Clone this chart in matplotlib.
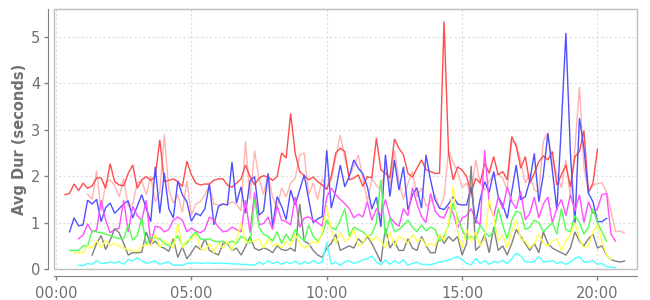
import numpy as np
import matplotlib
matplotlib.use('Agg')
import matplotlib.pyplot as plt
from matplotlib.patches import Rectangle
from matplotlib.ticker import FixedLocator, FuncFormatter

# ---- data: 10-minute averages, start hour for each series ----
red_start = 20 / 60
red = [1.60,1.63,1.83,1.69,1.85,1.74,1.79,1.96,1.96,1.74,2.27,1.88,1.81,1.79,2.06,2.24,1.74,1.92,1.99,1.91,1.99,
       2.78,1.88,1.91,1.94,1.88,1.78,2.32,2.03,1.85,1.81,1.83,1.83,1.91,1.94,1.94,1.81,1.76,1.85,1.94,2.24,1.99,
       1.81,1.96,2.01,1.98,1.91,1.99,2.50,2.39,3.35,2.50,2.10,2.01,1.92,1.98,1.88,1.81,1.71,2.00,2.50,2.60,2.53,
       1.92,1.96,2.03,1.78,1.99,1.96,2.82,2.14,2.06,1.96,2.80,2.60,2.46,2.06,1.98,2.17,2.35,2.14,2.10,2.06,2.06,5.33,
       2.49,1.92,2.20,2.13,1.99,1.63,1.95,1.85,2.28,2.06,2.42,2.03,2.10,1.92,2.85,2.64,2.17,2.42,1.85,2.06,2.31,2.44,
       2.35,2.53,1.81,2.03,2.24,1.77,2.42,2.53,2.98,1.65,1.85,2.58]

pink_start = 70 / 60
pink = [1.62,1.50,2.12,1.25,1.85,1.92,
        1.80,1.55,1.95,1.35,1.40,1.85,
        1.90,1.60,2.00,1.45,1.65,2.90,
        1.70,1.42,1.60,1.22,1.90,1.15,
        1.40,1.45,1.60,1.80,1.40,1.38,
        1.40,1.38,1.45,1.40,1.25,2.75,
        1.50,2.55,1.95,1.60,2.05,1.55,
        1.30,1.75,1.55,1.85,1.95,2.45,
        2.50,1.60,1.85,1.50,1.95,1.75,
        1.90,2.40,2.89,2.40,2.00,2.20,
        2.46,1.95,1.45,1.95,1.80,1.70,
        2.20,1.80,2.55,1.90,1.50,1.85,
        2.10,1.55,1.75,1.35,1.45,1.60,
        1.30,1.55,2.55,2.30,2.10,1.75,
        1.85,1.55,2.35,1.85,1.70,1.90,
        2.00,2.05,1.95,1.70,2.75,2.70,
        2.30,1.85,2.05,1.70,1.65,2.75,
        2.94,2.30,2.05,1.75,2.35,1.55,
        2.60,3.92,2.20,1.65,1.80,1.85,
        1.85,1.67,1.25,0.80,0.82,0.77]

blue_start = 30 / 60
blue = [0.80,1.10,0.93,
        0.95,1.48,1.40,1.50,1.02,1.32,
        1.42,1.20,1.30,1.40,1.47,1.10,
        1.35,1.60,1.30,1.02,2.20,1.20,
        2.07,1.30,1.10,1.90,1.60,1.45,
        1.03,1.20,1.15,1.30,1.83,0.95,
        1.35,1.40,1.38,2.30,1.42,1.77,
        1.20,1.90,1.99,1.16,1.25,2.06,
        0.91,1.56,1.35,1.06,1.70,1.38,
        1.70,2.03,1.50,1.00,1.08,1.13,
        2.56,1.31,1.70,2.24,1.77,2.00,
        2.35,2.17,2.05,1.77,1.29,1.55,
        0.91,2.46,1.56,2.35,1.70,2.20,
        1.27,1.60,1.75,1.31,2.46,1.92,
        1.49,1.31,1.28,1.40,1.56,1.40,
        1.38,1.38,1.77,0.98,1.50,1.88,
        1.65,2.10,1.56,1.38,1.09,1.67,
        2.24,1.49,1.56,1.90,2.49,1.45,
        2.03,2.92,2.13,1.27,3.10,5.08,
        2.50,0.95,3.25,2.60,1.63,1.45,
        1.02,1.02,1.09]

magenta_start = 50 / 60
magenta = [0.65,
           0.73,0.97,0.80,0.84,1.48,1.05,
           0.78,0.85,0.88,1.48,0.80,1.35,
           1.15,1.05,1.48,0.55,0.92,0.90,
           0.80,0.85,1.05,1.12,1.05,0.80,
           0.88,0.82,0.78,0.85,1.12,1.05,
           0.90,0.80,0.82,0.90,0.85,0.80,
           1.48,0.78,1.65,0.95,0.98,1.12,
           0.85,1.35,1.05,1.02,0.95,1.55,
           0.90,1.10,1.12,1.05,1.00,0.92,
           1.55,1.74,1.60,1.50,1.41,1.30,
           1.10,1.18,1.12,1.45,1.05,1.30,
           1.15,1.50,1.12,1.00,0.92,1.30,
           1.15,1.75,1.40,1.13,1.00,1.63,
           1.25,1.13,1.10,1.34,1.20,0.88,
           1.10,1.15,1.30,1.06,0.95,2.56,
           1.40,1.13,1.55,1.30,1.77,1.45,
           1.30,1.67,1.06,1.20,1.55,1.10,
           1.40,1.55,1.00,1.30,1.50,1.15,
           1.60,1.25,1.60,1.00,1.45,1.20,
           1.30,1.60,1.63,0.75,0.60]

green_start = 30 / 60
green = [0.40,0.40,0.40,
         0.50,0.50,0.82,0.80,0.78,0.75,
         0.72,0.68,0.66,0.65,0.95,0.62,
         0.72,1.10,0.52,0.68,0.67,0.65,
         0.55,0.50,0.58,0.72,0.50,0.55,
         0.70,0.80,0.65,0.63,0.65,0.60,
         0.58,0.60,0.55,0.60,0.55,0.70,
         0.65,0.55,1.50,0.90,0.75,0.70,
         0.60,0.80,0.55,0.75,0.60,0.85,
         0.70,0.60,0.95,0.70,0.60,0.75,
         1.05,0.90,0.85,1.05,1.30,0.70,
         0.90,0.85,0.80,0.70,0.75,1.00,
         1.92,0.70,1.10,0.80,0.85,0.95,
         1.05,0.90,0.80,0.95,0.82,0.90,
         0.85,0.60,0.70,0.95,1.42,1.10,
         0.85,0.65,0.70,0.65,0.95,0.80,
         0.70,0.80,1.30,0.95,0.65,1.05,
         1.25,1.20,0.85,0.90,1.05,1.00,
         0.80,0.90,1.00,0.75,1.30,0.85,
         0.80,1.15,1.00,0.75,0.90,1.30,
         1.00,0.80,0.60]

yellow_start = 40 / 60
yellow = [0.35,0.35,
          0.35,0.50,0.45,0.62,0.45,0.62,
          0.50,0.55,0.50,0.45,0.42,0.40,
          0.38,0.50,0.52,0.50,0.75,0.45,
          0.60,0.55,0.45,0.98,0.45,0.62,
          0.64,0.75,0.45,0.40,0.55,0.35,
          0.55,0.45,0.60,0.40,0.65,1.00,
          0.55,0.60,0.60,0.65,0.45,0.65,
          0.50,0.55,0.45,0.60,0.50,0.75,
          0.55,0.45,0.50,0.60,0.55,0.80,
          1.34,0.85,0.55,0.80,0.60,0.65,
          0.85,0.50,0.55,0.75,0.60,0.70,
          0.60,0.45,0.80,0.50,0.70,0.65,
          0.55,0.75,0.60,0.65,0.50,0.55,
          0.50,0.75,0.60,1.00,1.80,0.80,
          0.45,0.85,0.60,0.80,0.50,0.65,
          1.50,1.10,0.60,0.75,0.45,0.80,
          1.05,0.65,0.60,0.45,0.55,0.75,
          0.55,0.50,0.60,0.65,0.40,0.60,
          0.75,1.00,0.65,0.45,0.50,0.80,
          0.95,0.60,0.30,0.20]

gray_start = 80 / 60
gray = [0.30,0.55,0.72,0.42,
        0.62,0.87,0.78,0.55,0.30,0.35,
        0.35,0.36,0.80,0.52,0.60,0.48,
        0.45,0.38,0.65,0.25,0.48,0.22,
        0.35,0.50,0.42,0.65,0.40,0.35,
        0.30,0.55,0.55,0.40,0.45,0.30,
        0.48,0.70,0.45,0.40,0.45,0.42,
        0.35,0.50,0.42,0.40,0.45,0.38,
        1.40,0.60,0.55,0.40,0.30,0.25,
        0.45,0.55,0.75,0.40,0.45,0.50,
        0.45,0.65,0.55,0.70,0.55,0.35,
        0.15,0.88,0.45,0.60,0.40,0.40,
        0.65,0.45,0.40,0.70,0.50,0.35,
        0.35,0.75,0.55,0.70,0.60,0.70,
        0.30,0.55,2.22,0.40,0.50,0.75,
        0.35,0.90,0.40,0.50,0.30,0.55,
        0.85,0.70,0.55,0.40,0.55,0.35,
        0.80,0.55,0.45,0.40,0.35,0.30,
        0.45,0.80,0.60,0.50,0.65,0.75,
        0.45,0.50,0.30,0.20,0.17,0.15,
        0.17]

cyan_start = 50 / 60
cyan = [0.08,0.07,0.12,0.10,0.18,0.12,0.13,
        0.15,0.13,0.16,0.10,0.20,0.18,
        0.24,0.18,0.12,0.15,0.17,0.10,
        0.13,0.15,0.08,0.08,0.08,0.12,
        0.13,0.13,0.12,0.13,0.13,0.12,
        0.13,0.12,0.12,0.11,0.11,0.10,
        0.10,0.09,0.08,0.15,0.10,0.18,
        0.12,0.15,0.10,0.15,0.12,0.17,
        0.10,0.15,0.12,0.18,0.12,0.15,
        0.58,0.10,0.15,0.08,0.15,0.18,
        0.12,0.15,0.20,0.22,0.28,0.15,
        0.09,0.20,0.10,0.18,0.12,0.20,
        0.08,0.12,0.15,0.10,0.10,0.09,
        0.12,0.15,0.17,0.19,0.23,0.27,
        0.20,0.12,0.09,0.23,0.12,0.18,
        0.10,0.16,0.14,0.18,0.12,0.22,
        0.34,0.28,0.15,0.15,0.16,0.27,
        0.15,0.16,0.18,0.12,0.15,0.10,
        0.15,0.23,0.27,0.15,0.15,0.18,
        0.10,0.12,0.05,0.04,0.03]

x_ticks = [0, 5, 10, 15, 20]
y_ticks = [0, 1, 2, 3, 4, 5]
y_label = "Avg Dur (seconds)"

series = [
    (pink, pink_start, '#ffb4b4'),
    (red, red_start, '#ff4c4c'),
    (blue, blue_start, '#5050ff'),
    (magenta, magenta_start, '#ff50ff'),
    (gray, gray_start, '#808080'),
    (green, green_start, '#50ff50'),
    (yellow, yellow_start, '#ffff50'),
    (cyan, cyan_start, '#50ffff'),
]

fig = plt.figure(figsize=(6.5, 3), dpi=100)
ax = fig.add_axes([54/650, 1-269/300, (637-54)/650, (269-9)/300])

for vals, start, col in series:
    t = start + np.arange(len(vals)) / 6.0
    ax.plot(t, vals, color=col, lw=1.0, solid_joinstyle='miter')

ax.set_xlim(-0.074, 21.46)
ax.set_ylim(0, 5.60)
ax.xaxis.set_major_locator(FixedLocator(x_ticks))
ax.xaxis.set_major_formatter(FuncFormatter(lambda v, p: "%02d:00" % int(round(v))))
ax.yaxis.set_major_locator(FixedLocator(y_ticks))

ax.grid(True, color='#dddddd', linestyle=(0, (2, 2)), lw=0.8)
ax.set_axisbelow(True)

for s in ['top', 'right']:
    ax.spines[s].set_color('#c0c0c0')
ax.spines['left'].set_position(('outward', 4))
ax.spines['bottom'].set_position(('outward', 5))
ax.spines['left'].set_color('#808080')
ax.spines['bottom'].set_color('#808080')
ax.add_patch(Rectangle((0, 0), 1, 1, transform=ax.transAxes, fill=False,
                       ec='#c0c0c0', lw=1, clip_on=False, zorder=5))

ax.tick_params(axis='both', direction='out', length=3, width=1, color='#808080',
               labelcolor='#707070', labelsize=10.5)
ax.tick_params(axis='y', pad=3)
ax.tick_params(axis='x', pad=4)

ax.set_ylabel(y_label, fontsize=10.5, fontweight='bold', color='#707070', labelpad=3)

fig.savefig('out.png', dpi=100)
